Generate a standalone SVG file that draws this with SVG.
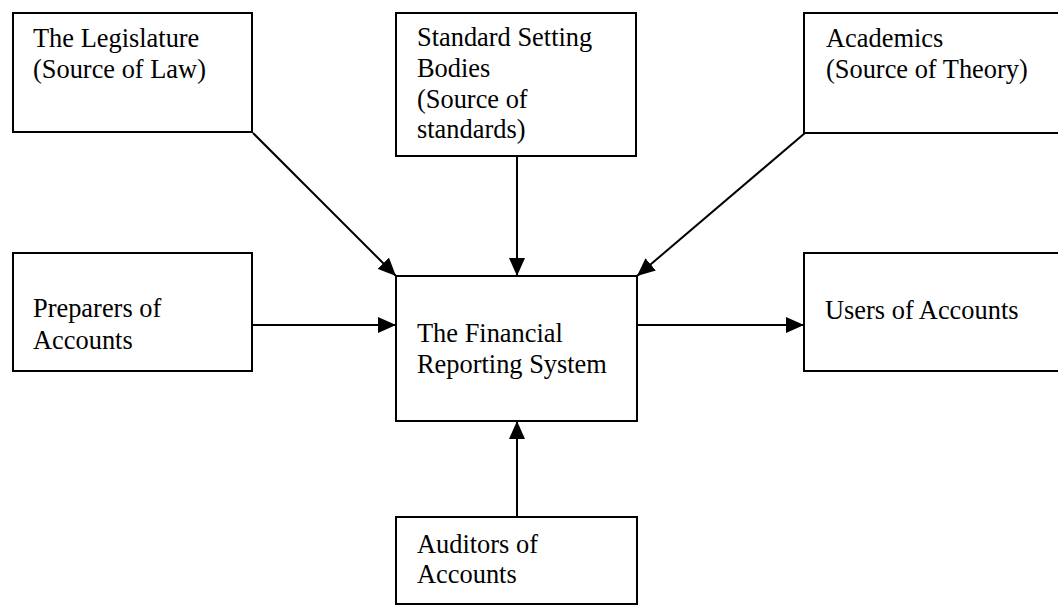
<svg xmlns="http://www.w3.org/2000/svg" width="1058" height="608" viewBox="0 0 1058 608">
  <style>
    .box { fill: #ffffff; stroke: #000000; stroke-width: 2; }
    .label { font-family: "Liberation Serif", "Times New Roman", serif; font-size: 26.4px; fill: #000000; }
    .conn { stroke: #000000; stroke-width: 2; fill: none; marker-end: url(#arrow); }
  </style>
  <defs>
    <marker id="arrow" markerUnits="userSpaceOnUse" markerWidth="20" markerHeight="16" refX="18" refY="8" orient="auto">
      <path d="M0,0 L18,8 L0,16 Z" fill="#000000"/>
    </marker>
  </defs>
  <rect width="1058" height="608" fill="#ffffff"/>

  <!-- connectors -->
  <g id="connectors">
    <line class="conn" x1="253" y1="133" x2="396" y2="276"/>
    <line class="conn" x1="517" y1="156" x2="517" y2="276"/>
    <line class="conn" x1="805" y1="133" x2="637" y2="276"/>
    <line class="conn" x1="252" y1="325" x2="396" y2="325"/>
    <line class="conn" x1="637" y1="325" x2="804" y2="325"/>
    <line class="conn" x1="517" y1="517" x2="517" y2="421"/>
  </g>

  <g id="legislature">
    <rect class="box" x="13" y="13" width="239" height="119"/>
    <text class="label" x="33" y="47">The Legislature</text>
    <text class="label" x="33" y="78">(Source of Law)</text>
  </g>

  <g id="standard-setting">
    <rect class="box" x="396" y="13" width="240" height="143"/>
    <text class="label" x="417" y="46">Standard Setting</text>
    <text class="label" x="417" y="77">Bodies</text>
    <text class="label" x="417" y="108">(Source of</text>
    <text class="label" x="417" y="138">standards)</text>
  </g>

  <g id="academics">
    <rect class="box" x="804" y="13" width="270" height="120"/>
    <text class="label" x="826" y="47">Academics</text>
    <text class="label" x="826" y="78">(Source of Theory)</text>
  </g>

  <g id="preparers">
    <rect class="box" x="13" y="253" width="239" height="118"/>
    <text class="label" x="33" y="317">Preparers of</text>
    <text class="label" x="33" y="349">Accounts</text>
  </g>

  <g id="financial-reporting">
    <rect class="box" x="396" y="276" width="241" height="145"/>
    <text class="label" x="417" y="342">The Financial</text>
    <text class="label" x="417" y="373">Reporting System</text>
  </g>

  <g id="users">
    <rect class="box" x="804" y="253" width="270" height="118"/>
    <text class="label" x="825" y="319">Users of Accounts</text>
  </g>

  <g id="auditors">
    <rect class="box" x="396" y="517" width="241" height="87"/>
    <text class="label" x="417" y="553">Auditors of</text>
    <text class="label" x="417" y="583">Accounts</text>
  </g>
</svg>
